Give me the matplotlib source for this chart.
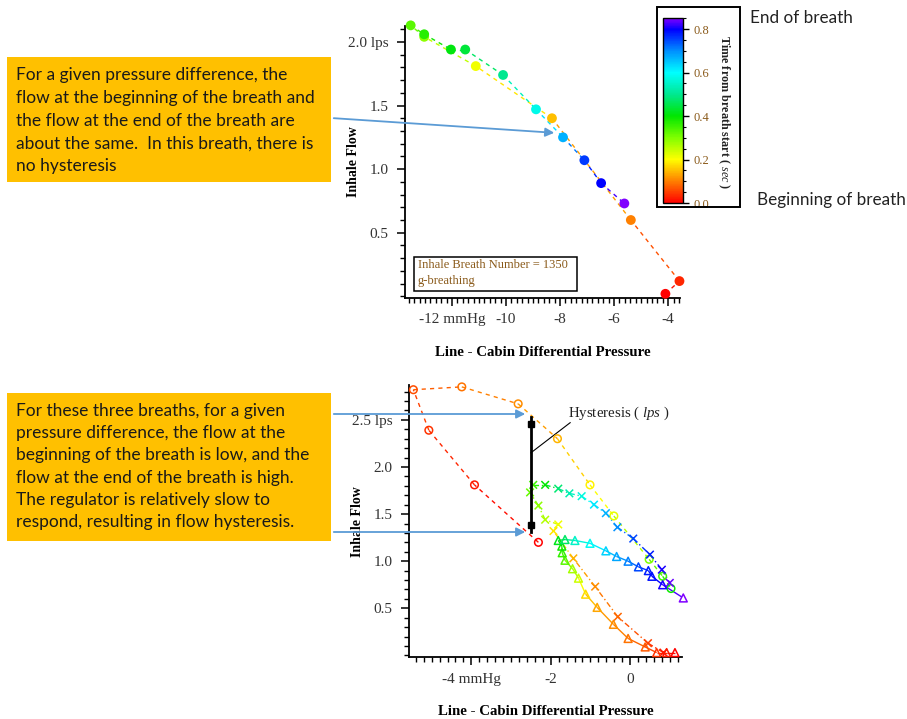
import numpy as np
import matplotlib
matplotlib.use("Agg")
import matplotlib.pyplot as plt
from matplotlib.colors import LinearSegmentedColormap, Normalize
from matplotlib.collections import LineCollection
from matplotlib.patches import Rectangle, FancyArrowPatch
from matplotlib.ticker import MultipleLocator, FixedLocator
from matplotlib.cm import ScalarMappable

W, H = 907, 719

plt.rcParams['mathtext.fontset'] = 'custom'
plt.rcParams['mathtext.rm'] = 'Liberation Serif'
plt.rcParams['mathtext.it'] = 'Liberation Serif:italic'

# inhale breath 1350, g-breathing (pressure mmHg, flow lps, time sec)
top_dp = [-4.10, -3.58, -5.38, -8.30, -11.12, -13.03, -13.53, -13.03, -12.04,
          -11.51, -10.11, -8.89, -7.89, -7.10, -6.48, -5.62]
top_flow = [0.02, 0.12, 0.60, 1.40, 1.81, 2.04, 2.13, 2.06, 1.94,
            1.94, 1.74, 1.47, 1.25, 1.07, 0.89, 0.73]
top_t = [0.00, 0.03, 0.10, 0.15, 0.21, 0.29, 0.33, 0.37, 0.41,
         0.44, 0.50, 0.58, 0.67, 0.76, 0.80, 0.85]

# three breaths with hysteresis
circ_dp = [-2.31, -3.92, -5.07, -5.46, -4.24, -2.82, -1.83, -1.01, -0.41, 0.48, 0.82, 1.03]
circ_flow = [1.20, 1.81, 2.39, 2.82, 2.85, 2.67, 2.30, 1.81, 1.48, 1.02, 0.84, 0.71]
circ_t = [0.00, 0.02, 0.04, 0.06, 0.09, 0.11, 0.14, 0.19, 0.22, 0.30, 0.35, 0.39]

cross_dp = [0.84, 0.45, -0.31, -0.88, -1.43, -1.93, -1.81, -2.14, -2.31, -2.52, -2.44,
            -2.14, -1.81, -1.53, -1.22, -0.91, -0.61, -0.32, 0.08, 0.50, 0.80, 1.00]
cross_flow = [0.03, 0.13, 0.41, 0.73, 1.03, 1.32, 1.39, 1.44, 1.59, 1.73, 1.81,
              1.81, 1.77, 1.72, 1.69, 1.60, 1.51, 1.36, 1.24, 1.07, 0.91, 0.77]
cross_t = [0.02, 0.05, 0.08, 0.11, 0.14, 0.18, 0.21, 0.26, 0.29, 0.32, 0.35,
           0.40, 0.48, 0.53, 0.57, 0.62, 0.67, 0.70, 0.75, 0.78, 0.81, 0.84]

tri_dp = [1.13, 0.92, 0.67, 0.38, -0.05, -0.42, -0.83, -1.12, -1.30, -1.45, -1.64, -1.71,
          -1.72, -1.81, -1.64, -1.39, -1.01, -0.61, -0.34, -0.05, 0.21, 0.46, 0.55, 0.82, 1.34]
tri_flow = [0.03, 0.03, 0.03, 0.09, 0.18, 0.33, 0.51, 0.65, 0.82, 0.92, 1.01, 1.09,
            1.16, 1.22, 1.23, 1.22, 1.19, 1.11, 1.05, 1.00, 0.94, 0.90, 0.84, 0.75, 0.61]
tri_t = [0.00, 0.02, 0.04, 0.07, 0.09, 0.11, 0.13, 0.17, 0.24, 0.27, 0.33, 0.36,
         0.39, 0.42, 0.47, 0.55, 0.59, 0.64, 0.68, 0.71, 0.75, 0.78, 0.79, 0.81, 0.85]

# hysteresis marker at -2.5 mmHg
hyst_dp = -2.5
hyst_lo, hyst_hi = 1.31, 2.53

t_max = 0.85
cb_ticks = [0.0, 0.2, 0.4, 0.6, 0.8]
stops = [(0.00, '#ff0000'), (0.10, '#ff8000'), (0.20, '#ffff00'), (0.30, '#80ff00'),
         (0.40, '#00e600'), (0.50, '#00e890'), (0.60, '#00ffff'), (0.70, '#0090ff'),
         (0.80, '#0000ff'), (0.85, '#8000ff')]
cmap = LinearSegmentedColormap.from_list('breath', [(v / t_max, c) for v, c in stops])
norm = Normalize(0, t_max)

serif = 'Liberation Serif'
sans = 'Lato'
label_col = '#8a5a1a'


def px(x, y):
    return (x / W, 1 - y / H)


def px_rect(x0, y0, x1, y1):
    return [x0 / W, 1 - y1 / H, (x1 - x0) / W, (y1 - y0) / H]


def time_line(ax, x, y, t, ls, lw=1.0):
    pts = np.column_stack([x, y])
    segs = np.stack([pts[:-1], pts[1:]], axis=1)
    tm = (np.array(t[:-1]) + np.array(t[1:])) / 2
    lc = LineCollection(segs, colors=cmap(norm(tm)), linestyles=ls, linewidths=lw)
    ax.add_collection(lc)


def style_axes(ax, xt, xl, yt, yl, xminor, yminor):
    for s in ['top', 'right']:
        ax.spines[s].set_visible(False)
    for s in ['left', 'bottom']:
        ax.spines[s].set_linewidth(1.3)
    ax.xaxis.set_major_locator(FixedLocator(xt))
    ax.set_xticklabels(xl)
    ax.yaxis.set_major_locator(FixedLocator(yt))
    ax.set_yticklabels(yl)
    ax.xaxis.set_minor_locator(MultipleLocator(xminor))
    ax.yaxis.set_minor_locator(MultipleLocator(yminor))
    ax.tick_params(which='major', direction='out', length=6, width=1.1,
                   labelsize=11, labelcolor='#333333')
    ax.tick_params(axis='x', which='major', pad=5)
    ax.tick_params(axis='y', which='major', pad=6)
    ax.tick_params(which='minor', direction='out', length=3.5, width=1.0)
    for lab in ax.get_xticklabels() + ax.get_yticklabels():
        lab.set_fontfamily(serif)
    ax.set_xlabel('Line - Cabin Differential Pressure', fontfamily=serif,
                  fontweight='bold', fontsize=10.7)
    ax.set_ylabel('Inhale Flow', fontfamily=serif, fontweight='bold', fontsize=10)
    ax.xaxis.set_label_coords(0.5, -0.175)
    ax.yaxis.set_label_coords(-0.165, 0.5)


fig = plt.figure(figsize=(W / 100, H / 100), dpi=100)

# --- upper plot: single breath, no hysteresis ---
ax1 = fig.add_axes(px_rect(405, 26, 680, 298))
time_line(ax1, top_dp, top_flow, top_t, (0, (3, 3)))
ax1.scatter(top_dp, top_flow, c=top_t, cmap=cmap, norm=norm, s=50,
            zorder=3, clip_on=False, linewidths=0)
ax1.set_xlim(-13.74, -3.56)
ax1.set_ylim(-0.013, 2.125)
style_axes(ax1, [-12, -10, -8, -6, -4], ['-12 mmHg', '-10', '-8', '-6', '-4'],
           [0.5, 1.0, 1.5, 2.0], ['0.5', '1.0', '1.5', '2.0 lps'], 0.2, 0.1)

fig.add_artist(Rectangle(px(414, 290.7), 162.7 / W, 34 / H, transform=fig.transFigure,
                         fill=False, edgecolor='black', lw=1.1))
fig.text(*px(418, 265), 'Inhale Breath Number = 1350', fontfamily=serif, fontsize=9,
         color=label_col, va='center')
fig.text(*px(418, 281), 'g-breathing', fontfamily=serif, fontsize=9,
         color=label_col, va='center')

# colour scale for time from breath start
cax = fig.add_axes(px_rect(662.7, 18.3, 682.7, 203))
cb = fig.colorbar(ScalarMappable(norm=norm, cmap=cmap), cax=cax)
cb.set_ticks(cb_ticks)
cb.ax.yaxis.set_minor_locator(MultipleLocator(0.05))
cb.outline.set_linewidth(1.0)
cb.ax.tick_params(which='major', length=4, width=1, labelsize=9, labelcolor=label_col)
cb.ax.tick_params(which='minor', length=2.5, width=0.8)
for lab in cb.ax.get_yticklabels():
    lab.set_fontfamily(serif)
fig.text(*px(724, 112), 'Time from breath start ( $\\mathit{sec}$ )', rotation=270,
         fontfamily=serif, fontsize=8.7, fontweight='bold', color='#222222',
         ha='center', va='center')
fig.add_artist(Rectangle(px(657, 207), 83 / W, 200 / H, transform=fig.transFigure,
                         fill=False, edgecolor='black', lw=1.4))
fig.text(*px(750, 18), 'End of breath', fontfamily=sans, fontsize=12.3,
         color='#222222', va='center')
fig.text(*px(757, 200), 'Beginning of breath', fontfamily=sans, fontsize=12.3,
         color='#222222', va='center')

# --- lower plot: three breaths with hysteresis ---
ax2 = fig.add_axes(px_rect(409, 385, 681.7, 657.3))
time_line(ax2, circ_dp, circ_flow, circ_t, (0, (3, 3)))
time_line(ax2, cross_dp, cross_flow, cross_t, (0, (4, 2, 1, 2)))
time_line(ax2, tri_dp, tri_flow, tri_t, '-')
ax2.scatter(circ_dp, circ_flow, marker='o', s=30, facecolors='none',
            edgecolors=cmap(norm(circ_t)), linewidths=1.1, zorder=3, clip_on=False)
ax2.scatter(cross_dp, cross_flow, marker='x', s=30, c=cmap(norm(cross_t)),
            linewidths=1.1, zorder=3, clip_on=False)
ax2.scatter(tri_dp, tri_flow, marker='^', s=32, facecolors='none',
            edgecolors=cmap(norm(tri_t)), linewidths=1.1, zorder=3, clip_on=False)
ax2.set_xlim(-5.57, 1.30)
ax2.set_ylim(-0.02, 2.87)
style_axes(ax2, [-4, -2, 0], ['-4 mmHg', '-2', '0'],
           [0.5, 1.0, 1.5, 2.0, 2.5], ['0.5', '1.0', '1.5', '2.0', '2.5 lps'], 0.2, 0.1)

ax2.plot([hyst_dp, hyst_dp], [hyst_lo, hyst_hi], color='black', lw=2, zorder=4)
ax2.plot([hyst_dp, hyst_dp], [hyst_lo + 0.07, hyst_hi - 0.07], 's', color='black',
         ms=4.5, zorder=4)
ax2.plot([hyst_dp, -1.51], [2.15, 2.47], color='black', lw=0.8)
ax2.text(-1.56, 2.57, 'Hysteresis ( $\\mathit{lps}$ )', fontfamily=serif, fontsize=10.7,
         color='#222222', va='center')

# --- call-out boxes ---
box_col = '#ffc000'
arrow_col = '#5b9bd5'
fig.add_artist(Rectangle(px(7, 182), 324 / W, 125 / H, transform=fig.transFigure,
                         facecolor=box_col, edgecolor='none'))
fig.text(*px(16, 67), 'For a given pressure difference, the\n'
         'flow at the beginning of the breath and\n'
         'the flow at the end of the breath are\n'
         'about the same.  In this breath, there is\n'
         'no hysteresis', fontfamily=sans, fontsize=12.5, color='#1a1a1a',
         va='top', ha='left', linespacing=1.52)

fig.add_artist(Rectangle(px(7, 541), 324 / W, 148 / H, transform=fig.transFigure,
                         facecolor=box_col, edgecolor='none'))
fig.text(*px(16, 403), 'For these three breaths, for a given\n'
         'pressure difference, the flow at the\n'
         'beginning of the breath is low, and the\n'
         'flow at the end of the breath is high.\n'
         'The regulator is relatively slow to\n'
         'respond, resulting in flow hysteresis.', fontfamily=sans, fontsize=12.5,
         color='#1a1a1a', va='top', ha='left', linespacing=1.48)

for (x0, y0), (x1, y1) in [((331, 118), (557, 133)), ((331, 414), (528, 414)),
                           ((331, 532), (528, 532))]:
    fig.add_artist(FancyArrowPatch(px(x0, y0), px(x1, y1), transform=fig.transFigure,
                                   arrowstyle='-|>', mutation_scale=13,
                                   color=arrow_col, lw=1.3))

fig.savefig('out.png', dpi=100)
